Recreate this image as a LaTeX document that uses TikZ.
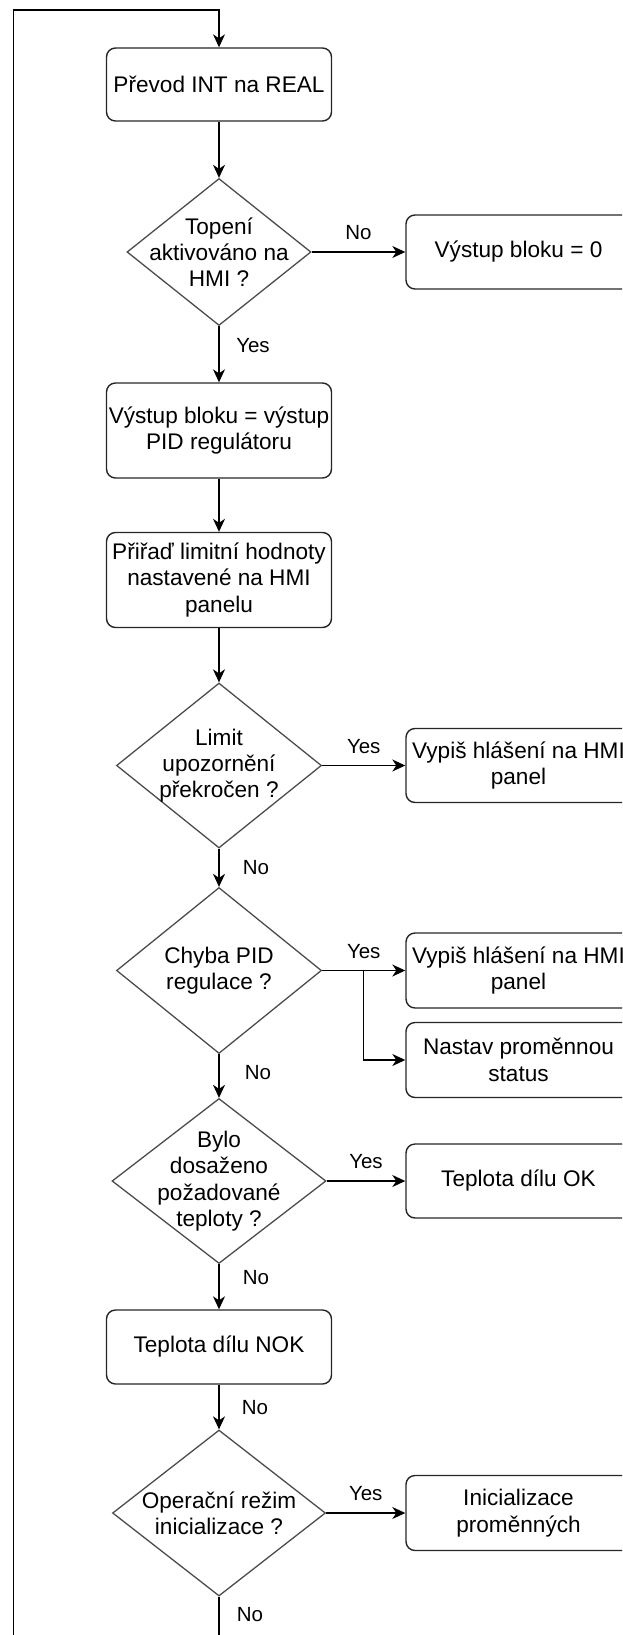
\documentclass[tikz,border=0pt]{standalone}
\usepackage{fontspec}
\setmainfont{Liberation Sans}
\usetikzlibrary{shapes.geometric,arrows.meta,calc}
\begin{document}
\begin{tikzpicture}[x=1pt,y=-1pt,
  font=\fontsize{22.6}{26.3}\selectfont,
  stepbox/.style={draw=black!85, line width=1.4pt, rounded corners=9pt,
    minimum width=225pt, inner sep=0pt, align=center},
  decision/.style={diamond, draw=black!70, line width=1.3pt, inner sep=0pt},
  arr/.style={draw=black, line width=1.4pt,
    -{Stealth[length=13pt,width=12pt,inset=4pt]}},
  lbl/.style={font=\fontsize{20.5}{24}\selectfont, inner sep=0pt},
]
\path[use as bounding box] (0,0) rectangle (622,1635);
\clip (0,0) rectangle (622,1635);

% main column
\node[stepbox, minimum height=73pt] (b1) at (219,84.5) {Převod INT na REAL};
\node[decision, minimum width=184pt, minimum height=147pt,
  label={[align=center]center:Topení\\aktivováno na\\HMI ?}] (d1) at (219,252) {};
\node[stepbox, minimum height=95pt] (b2) at (219,430.5) {Výstup bloku = výstup\\PID regulátoru};
\node[stepbox, minimum height=95pt] (b3) at (219,580) {Přiřaď limitní hodnoty\\nastavené na HMI\\panelu};
\node[decision, minimum width=205pt, minimum height=165pt,
  label={[align=center]center:Limit\\upozornění\\překročen ?}] (d2) at (219,765.5) {};
\node[decision, minimum width=205pt, minimum height=166pt,
  label={[align=center]center:Chyba PID\\regulace ?}] (d3) at (219,970.5) {};
\node[decision, minimum width=214pt, minimum height=165pt,
  label={[align=center]center:Bylo\\dosaženo\\požadované\\teploty ?}] (d4) at (219,1181) {};
\node[stepbox, minimum height=74pt] (b4) at (219,1347) {Teplota dílu NOK};
\node[decision, minimum width=213pt, minimum height=166pt,
  label={[align=center]center:Operační režim\\inicializace ?}] (d5) at (219,1513) {};

% side column
\node[stepbox, minimum height=74pt] (r1) at (518.5,252) {Výstup bloku = 0};
\node[stepbox, minimum height=74pt] (r2) at (518.5,765.5) {Vypiš hlášení na HMI\\panel};
\node[stepbox, minimum height=75pt] (r3) at (518.5,970.5) {Vypiš hlášení na HMI\\panel};
\node[stepbox, minimum height=75pt] (r4) at (518.5,1060) {Nastav proměnnou\\status};
\node[stepbox, minimum height=74pt] (r5) at (518.5,1181) {Teplota dílu OK};
\node[stepbox, minimum height=75pt] (r6) at (518.5,1513) {Inicializace\\proměnných};

% return loop corners
\coordinate (lt) at (13.5,10);
\coordinate (lb) at (13.5,1700);
\coordinate (br) at ($(d3.east)!0.5!(r3.west)$);

% connectors
\draw[arr] (b1.south) -- (d1.north);
\draw[arr] (d1.east) -- node[lbl, yshift=19pt] {No} (r1.west);
\draw[arr] (d1.south) -- node[lbl, pos=0.35, xshift=34pt] {Yes} (b2.north);
\draw[arr] (b2.south) -- (b3.north);
\draw[arr] (b3.south) -- (d2.north);
\draw[arr] (d2.east) -- node[lbl, yshift=19pt] {Yes} (r2.west);
\draw[arr] (d2.south) -- node[lbl, pos=0.49, xshift=37pt] {No} (d3.north);
\draw[arr] (d3.east) -- node[lbl, yshift=19pt] {Yes} (r3.west);
\draw[arr] (br) |- (r4.west);
\draw[arr] (d3.south) -- node[lbl, pos=0.42, xshift=39pt] {No} (d4.north);
\draw[arr] (d4.east) -- node[lbl, yshift=19pt] {Yes} (r5.west);
\draw[arr] (d4.south) -- node[lbl, pos=0.3, xshift=37pt] {No} (b4.north);
\draw[arr] (b4.south) -- node[lbl, pos=0.52, xshift=36pt] {No} (d5.north);
\draw[arr] (d5.east) -- node[lbl, yshift=19pt] {Yes} (r6.west);
\draw[arr] (d5.south) |- (lb) -- (lt) -| (b1.north);
\node[lbl] (nloop) at (250,1615) {No};
\end{tikzpicture}
\end{document}
